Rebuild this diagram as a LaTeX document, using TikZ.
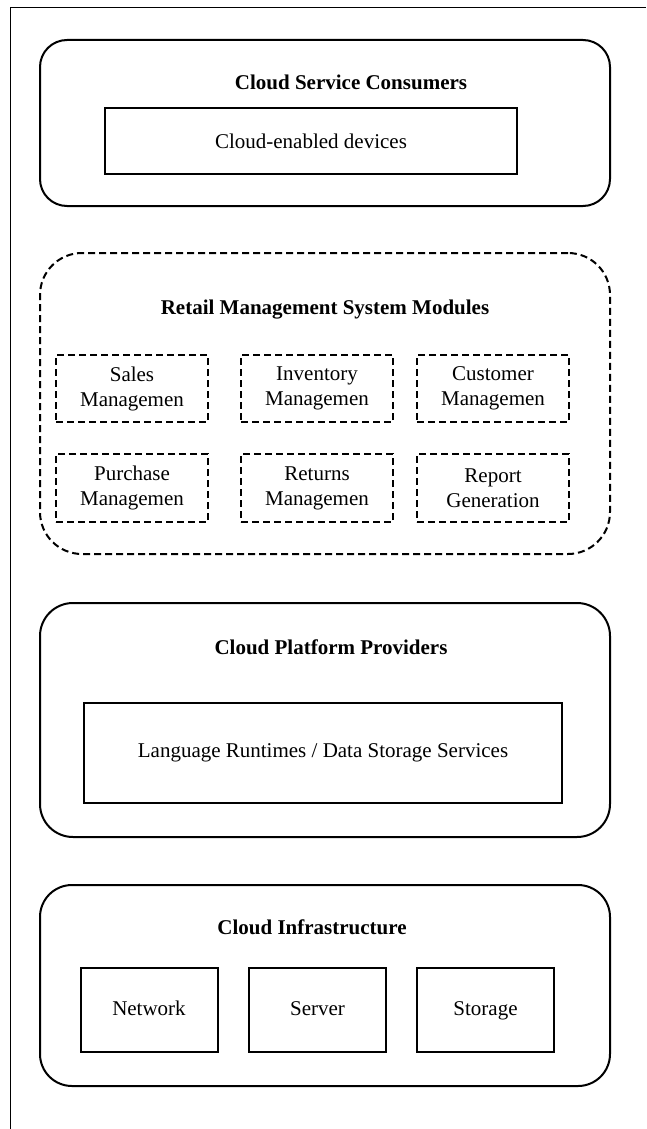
\documentclass[tikz,border=0pt]{standalone}
\usepackage{fontspec}
\setmainfont{Liberation Serif}
\begin{document}
\begin{tikzpicture}[x=1pt,y=-1pt,
  every node/.style={font=\fontsize{21}{25}\selectfont},
  layer/.style={draw, line width=2pt, inner sep=0pt, minimum width=570pt},
  dashbox/.style={draw, line width=2pt, dash pattern=on 7pt off 4pt},
  plainbox/.style={draw, line width=2pt, inner sep=0pt},
  modbox/.style={dashbox, inner sep=0pt, minimum width=152pt, align=center},
  infbox/.style={plainbox, minimum width=137pt, minimum height=84pt, text height=14pt, text depth=4pt},
  ttl/.style={font=\fontsize{21}{25}\selectfont\bfseries, inner sep=0pt}
]
\useasboundingbox (0,0) rectangle (646,1129);
\draw[line width=1pt] (10,1129) -- (10,8) -- (646,8);

% Layer 1
\node[layer, rounded corners=27pt, minimum height=166pt] (consumers) at (325,123) {};
\node[ttl] (consumersT) at (351,82) {Cloud Service Consumers};
\node[plainbox, minimum width=412pt, minimum height=66pt] (devices) at (311,141) {Cloud-enabled devices};

% Layer 2
\node[layer, dashbox, rounded corners=42pt, minimum height=301pt] (modules) at (325,403.5) {};
\node[ttl] (modulesT) at (325,310) {Retail Management System Modules};
\node[modbox, minimum height=67pt] (sales) at (132,388.5) {Sales\\Managemen};
\node[modbox, minimum height=67pt] (inventory) at (317,388.5) {Inventory\\Managemen};
\node[modbox, minimum height=67pt] (customer) at (493,388.5) {Customer\\Managemen};
\node[modbox, minimum height=68pt] (purchase) at (132,488) {Purchase\\Managemen};
\node[modbox, minimum height=68pt] (returns) at (317,488) {Returns\\Managemen};
\node[modbox, minimum height=68pt] (report) at (493,488) {Report\\Generation};

% Layer 3
\node[layer, rounded corners=33pt, minimum height=234pt] (platform) at (325,720) {};
\node[ttl] (platformT) at (331,647) {Cloud Platform Providers};
\node[plainbox, minimum width=478pt, minimum height=100pt] (runtimes) at (323,753) {Language Runtimes / Data Storage Services};

% Layer 4
\node[layer, rounded corners=32pt, minimum height=201pt] (infra) at (325,985.5) {};
\node[ttl] (infraT) at (312,927) {Cloud Infrastructure};
\node[infbox] (network) at (149,1010) {Network};
\node[infbox] (server) at (317.5,1010) {Server};
\node[infbox] (storage) at (485.5,1010) {Storage};
\end{tikzpicture}
\end{document}
